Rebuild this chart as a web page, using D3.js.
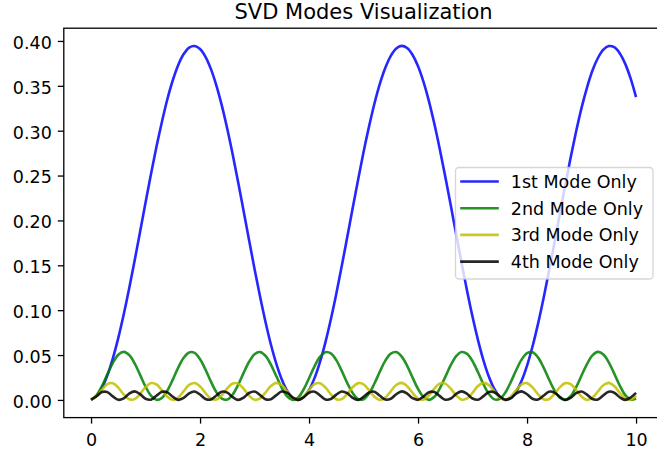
<!DOCTYPE html>
<html>
<head>
<meta charset="utf-8">
<script src="https://cdn.jsdelivr.net/npm/d3@7"></script>
<style>
  html, body { margin: 0; padding: 0; background: #ffffff; }
  svg { display: block; font-family: "DejaVu Sans", sans-serif; }
</style>
</head>
<body>
<svg id="chart" width="657" height="455"></svg>
<script>
// Sample positions along the x axis
const xs = [0,0.1,0.2,0.3,0.4,0.5,0.6,0.7,0.8,0.9,1,1.1,1.2,1.3,1.4,1.5,1.6,1.7,1.8,1.9,
  2,2.1,2.2,2.3,2.4,2.5,2.6,2.7,2.8,2.9,3,3.1,3.2,3.3,3.4,3.5,3.6,3.7,3.8,3.9,
  4,4.1,4.2,4.3,4.4,4.5,4.6,4.7,4.8,4.9,5,5.1,5.2,5.3,5.4,5.5,5.6,5.7,5.8,5.9,
  6,6.1,6.2,6.3,6.4,6.5,6.6,6.7,6.8,6.9,7,7.1,7.2,7.3,7.4,7.5,7.6,7.7,7.8,7.9,
  8,8.1,8.2,8.3,8.4,8.5,8.6,8.7,8.8,8.9,9,9.1,9.2,9.3,9.4,9.5,9.6,9.7,9.8,9.9,10];

// Reconstruction from the first singular mode alone
const mode1 = [0.0002,0.0042,0.0134,0.0275,0.0463,0.0691,0.0954,0.1244,0.1554,0.1875,
  0.2199,0.2517,0.2820,0.3097,0.3350,0.3562,0.3733,0.3854,0.3926,0.3944,
  0.3910,0.3823,0.3686,0.3503,0.3279,0.3019,0.2732,0.2424,0.2102,0.1779,
  0.1459,0.1154,0.0872,0.0618,0.0402,0.0228,0.0101,0.0024,0.0000,0.0029,
  0.0111,0.0243,0.0422,0.0642,0.0899,0.1184,0.1491,0.1812,0.2135,0.2454,
  0.2762,0.3045,0.3303,0.3525,0.3702,0.3834,0.3916,0.3945,0.3921,0.3844,
  0.3717,0.3543,0.3327,0.3074,0.2791,0.2487,0.2168,0.1844,0.1524,0.1214,
  0.0926,0.0667,0.0442,0.0259,0.0122,0.0035,0.0001,0.0019,0.0091,0.0213,
  0.0382,0.0595,0.0845,0.1125,0.1427,0.1745,0.2069,0.2391,0.2702,0.2990,
  0.3254,0.3481,0.3671,0.3810,0.3903,0.3943,0.3930,0.3864,0.3747,0.3582,0.3373];

// Second mode
const mode2 = [0.0002,0.0052,0.0155,0.0286,0.0413,0.0504,0.0535,0.0500,0.0407,0.0279,
  0.0148,0.0047,0.0001,0.0022,0.0104,0.0226,0.0360,0.0469,0.0529,0.0524,
  0.0454,0.0338,0.0204,0.0086,0.0014,0.0004,0.0061,0.0169,0.0301,0.0425,
  0.0510,0.0534,0.0492,0.0394,0.0264,0.0135,0.0039,0.0000,0.0028,0.0116,
  0.0242,0.0374,0.0479,0.0532,0.0519,0.0443,0.0323,0.0190,0.0076,0.0009,
  0.0008,0.0071,0.0183,0.0316,0.0438,0.0516,0.0533,0.0483,0.0380,0.0249,
  0.0122,0.0032,0.0000,0.0035,0.0129,0.0257,0.0387,0.0488,0.0534,0.0513,
  0.0431,0.0308,0.0175,0.0065,0.0006,0.0012,0.0081,0.0197,0.0331,0.0449,
  0.0521,0.0530,0.0474,0.0366,0.0233,0.0109,0.0025,0.0001,0.0043,0.0142,
  0.0272,0.0400,0.0496,0.0535,0.0507,0.0419,0.0293,0.0161,0.0056,0.0003,0.0016];

// Third mode
const mode3 = [0.0001,0.0040,0.0114,0.0177,0.0186,0.0137,0.0061,0.0007,0.0009,0.0067,
  0.0143,0.0188,0.0173,0.0107,0.0034,0.0000,0.0027,0.0098,0.0167,0.0189,
  0.0151,0.0077,0.0014,0.0004,0.0052,0.0128,0.0183,0.0181,0.0124,0.0048,
  0.0002,0.0017,0.0082,0.0155,0.0190,0.0163,0.0093,0.0024,0.0001,0.0038,
  0.0112,0.0176,0.0187,0.0139,0.0063,0.0007,0.0009,0.0066,0.0141,0.0187,
  0.0174,0.0109,0.0036,0.0000,0.0026,0.0096,0.0166,0.0190,0.0153,0.0078,
  0.0015,0.0003,0.0050,0.0127,0.0182,0.0182,0.0125,0.0049,0.0003,0.0016,
  0.0080,0.0154,0.0190,0.0165,0.0095,0.0025,0.0000,0.0037,0.0111,0.0174,
  0.0187,0.0140,0.0064,0.0008,0.0008,0.0064,0.0140,0.0187,0.0175,0.0111,
  0.0037,0.0000,0.0025,0.0094,0.0164,0.0190,0.0154,0.0080,0.0016,0.0003,0.0049];

// Fourth mode
const mode4 = [0.0002,0.0041,0.0088,0.0087,0.0039,0.0001,0.0018,0.0070,0.0095,0.0064,
  0.0013,0.0003,0.0046,0.0090,0.0084,0.0035,0.0001,0.0022,0.0074,0.0094,
  0.0060,0.0011,0.0005,0.0050,0.0092,0.0081,0.0031,0.0000,0.0026,0.0077,
  0.0094,0.0055,0.0008,0.0007,0.0054,0.0093,0.0078,0.0027,0.0000,0.0030,
  0.0080,0.0092,0.0051,0.0006,0.0010,0.0059,0.0094,0.0075,0.0023,0.0000,
  0.0034,0.0083,0.0091,0.0047,0.0004,0.0013,0.0063,0.0095,0.0071,0.0019,
  0.0001,0.0038,0.0086,0.0088,0.0042,0.0002,0.0016,0.0067,0.0095,0.0067,
  0.0016,0.0002,0.0042,0.0088,0.0086,0.0038,0.0001,0.0019,0.0071,0.0095,
  0.0063,0.0013,0.0004,0.0047,0.0091,0.0083,0.0034,0.0000,0.0023,0.0075,
  0.0094,0.0059,0.0010,0.0006,0.0051,0.0092,0.0080,0.0030,0.0000,0.0027,0.0078];

const seriesNames = ["1st Mode Only", "2nd Mode Only", "3rd Mode Only", "4th Mode Only"];
const seriesColors = ["#0000ff", "#008000", "#bfbf00", "#000000"];
const yTickValues = [0, 0.05, 0.10, 0.15, 0.20, 0.25, 0.30, 0.35, 0.40];
const xTickValues = [0, 2, 4, 6, 8, 10];
const chartTitle = "SVD Modes Visualization";

const series = [mode1, mode2, mode3, mode4].map((vals, i) => ({
  name: seriesNames[i],
  color: seriesColors[i],
  points: vals.map((v, j) => [xs[j], v])
}));

const svg = d3.select("#chart");
const plot = { left: 63.8, right: 663.3, top: 28.2, bottom: 417.6 };

const x = d3.scaleLinear().domain([-0.5, 10.5]).range([plot.left, plot.right]);
const y = d3.scaleLinear().domain([-0.0197, 0.4142]).range([plot.bottom, plot.top]);

svg.append("rect").attr("width", 657).attr("height", 455).attr("fill", "#ffffff");

// Data lines
const line = d3.line()
  .x(d => x(d[0]))
  .y(d => y(d[1]))
  .curve(d3.curveCatmullRom.alpha(0.5));

svg.append("g")
  .selectAll("path")
  .data(series)
  .join("path")
  .attr("d", d => line(d.points))
  .attr("fill", "none")
  .attr("stroke", d => d.color)
  .attr("stroke-opacity", 0.85)
  .attr("stroke-width", 2.6)
  .attr("stroke-linejoin", "round");

// Axes
const fontSize = 17.5;
const yAxis = svg.append("g")
  .attr("transform", `translate(${plot.left},0)`)
  .call(d3.axisLeft(y).tickValues(yTickValues).tickFormat(d3.format(".2f")).tickSize(6).tickPadding(6));
const xAxis = svg.append("g")
  .attr("transform", `translate(0,${plot.bottom})`)
  .call(d3.axisBottom(x).tickValues(xTickValues).tickFormat(d3.format("d")).tickSize(6).tickPadding(6));

[yAxis, xAxis].forEach(g => {
  g.select(".domain").remove();
  g.selectAll(".tick line").attr("stroke", "#000").attr("stroke-width", 1.3);
  g.selectAll(".tick text")
    .attr("fill", "#000")
    .style("font-family", "'DejaVu Sans', sans-serif")
    .style("font-size", fontSize + "px");
});
yAxis.selectAll(".tick text").attr("dy", "0.42em");
xAxis.selectAll(".tick text").attr("dy", "0.92em");

// Frame
svg.append("rect")
  .attr("x", plot.left).attr("y", plot.top)
  .attr("width", plot.right - plot.left).attr("height", plot.bottom - plot.top)
  .attr("fill", "none").attr("stroke", "#000").attr("stroke-width", 1.3);

// Title
svg.append("text")
  .attr("x", (plot.left + plot.right) / 2)
  .attr("y", 18.5)
  .attr("text-anchor", "middle")
  .style("font-size", "21px")
  .attr("fill", "#000")
  .text(chartTitle);

// Legend
const legend = svg.append("g");
legend.append("rect")
  .attr("x", 455.5).attr("y", 167.5)
  .attr("width", 197.5).attr("height", 111.5)
  .attr("rx", 3.5).attr("ry", 3.5)
  .attr("fill", "#ffffff").attr("fill-opacity", 0.8)
  .attr("stroke", "#cccccc").attr("stroke-opacity", 0.8).attr("stroke-width", 1.3);

const rowY = i => 181.5 + i * 26.7;
const entries = legend.selectAll("g.entry")
  .data(series)
  .join("g")
  .attr("class", "entry");
entries.append("line")
  .attr("x1", 461.5).attr("x2", 497.5)
  .attr("y1", (d, i) => rowY(i)).attr("y2", (d, i) => rowY(i))
  .attr("stroke", d => d.color)
  .attr("stroke-opacity", 0.85)
  .attr("stroke-width", 2.6)
  .attr("stroke-linecap", "square");
entries.append("text")
  .attr("x", 510.8)
  .attr("y", (d, i) => rowY(i) + 6.3)
  .style("font-size", fontSize + "px")
  .attr("fill", "#000")
  .text(d => d.name);
</script>
</body>
</html>
